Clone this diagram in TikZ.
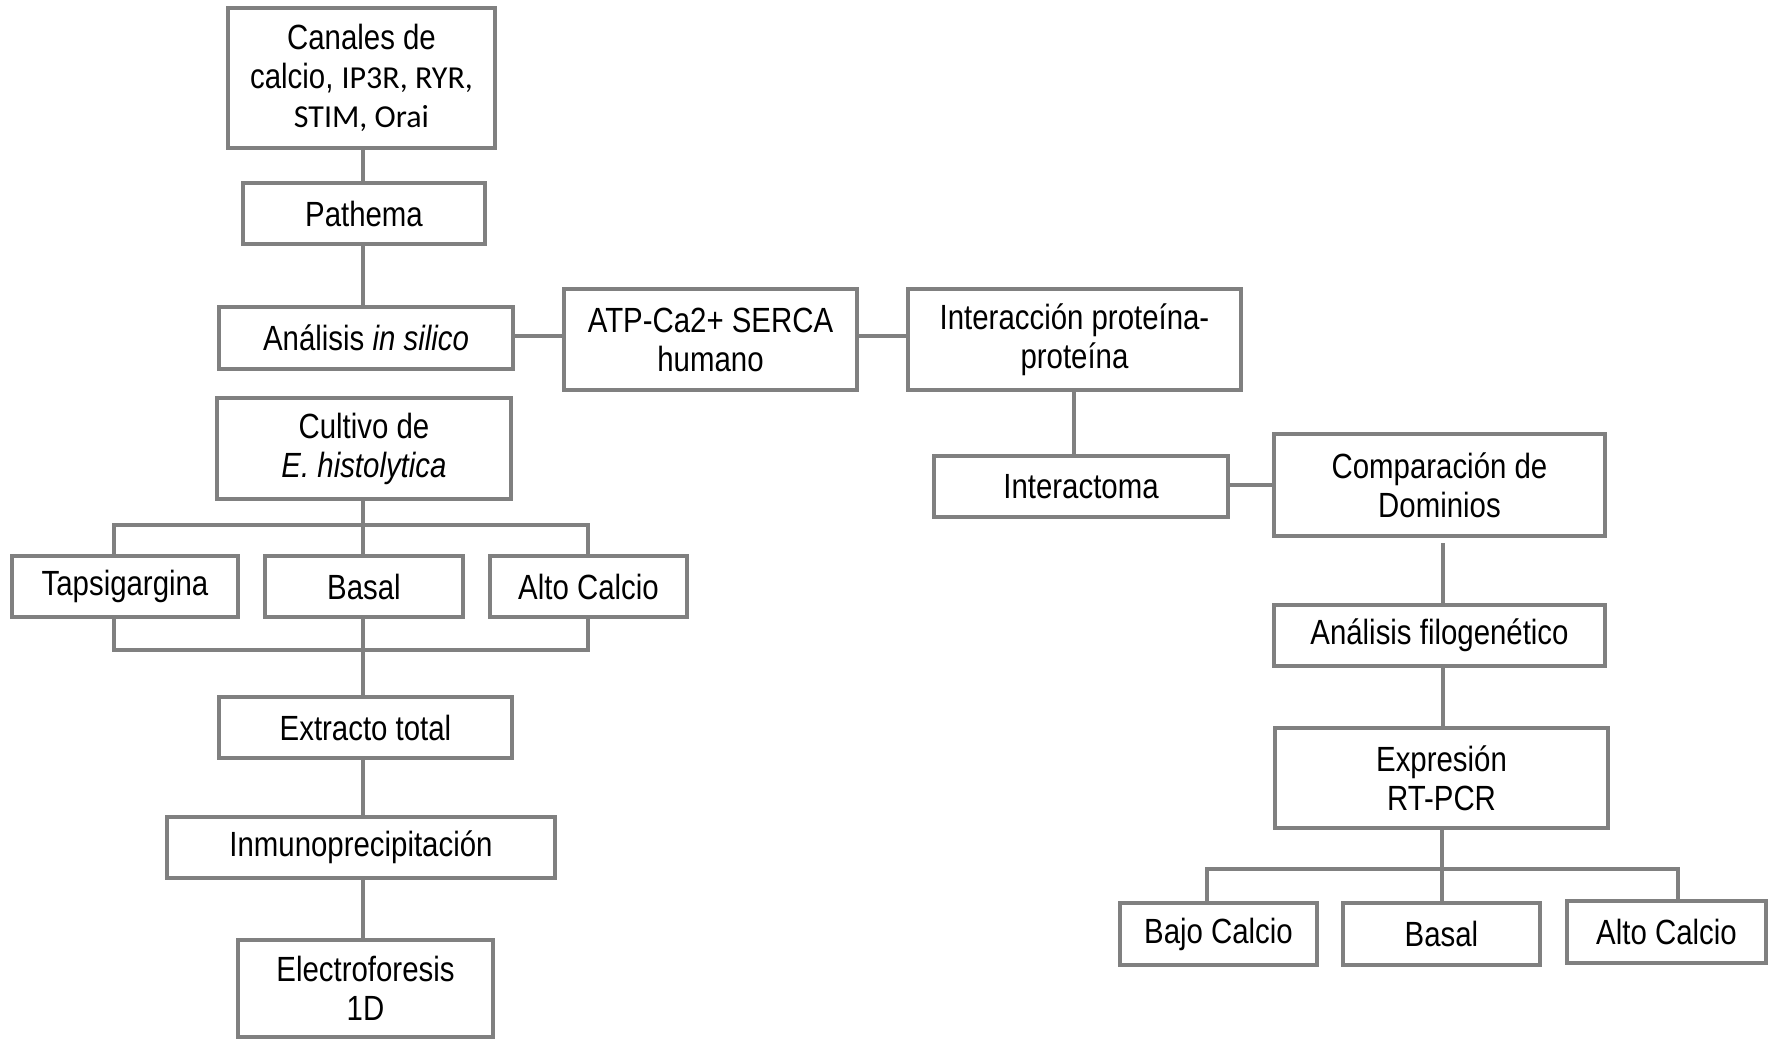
\documentclass[tikz,border=0pt]{standalone}
\usepackage{fontspec}
\setmainfont{Liberation Sans}[FakeStretch=0.84]
\newfontfamily\calib{Carlito}
\begin{document}
\begin{tikzpicture}[x=0.5pt,y=-0.5pt,
  box/.style={draw=linegray, line width=2pt, fill=white, inner sep=0pt, align=center,
    font=\fontsize{17.5}{19.5}\selectfont, text=black},
  conn/.style={draw=linegray, line width=2pt}]
\definecolor{linegray}{RGB}{128,128,128}
\useasboundingbox (0,0) rectangle (1769,1040);
% nodes
\node[box, minimum width=267*0.5pt, minimum height=140*0.5pt] (canal) at (361.5,78) {Canales de\\calcio, {\calib\fontsize{16}{19.5}\selectfont IP3R, RYR,}\\{\calib\fontsize{16}{19.5}\selectfont STIM, Orai}};
\node[box, minimum width=242*0.5pt, minimum height=61*0.5pt] (pathema) at (364,213.5) {Pathema};
\node[box, minimum width=294*0.5pt, minimum height=62*0.5pt] (silico) at (366,338) {Análisis \textit{in silico}};
\node[box, minimum width=293*0.5pt, minimum height=101*0.5pt] (atp) at (710.5,339.5) {ATP-Ca2+ SERCA\\humano};
\node[box, minimum width=333*0.5pt, minimum height=101*0.5pt] (inter) at (1074.5,339.5) {Interacción proteína-\\proteína};
\node[box, minimum width=294*0.5pt, minimum height=101*0.5pt] (cultivo) at (364,448.5) {Cultivo de\\\textit{E. histolytica}};
\node[box, minimum width=294*0.5pt, minimum height=61*0.5pt] (interactoma) at (1081,486.5) {Interactoma};
\node[box, minimum width=331*0.5pt, minimum height=102*0.5pt] (comp) at (1439.5,485) {Comparación de\\Dominios};
\node[box, minimum width=226*0.5pt, minimum height=61*0.5pt] (tap) at (125,586.5) {Tapsigargina};
\node[box, minimum width=198*0.5pt, minimum height=61*0.5pt] (basal) at (364,586.5) {Basal};
\node[box, minimum width=197*0.5pt, minimum height=61*0.5pt] (alto) at (588.5,586.5) {Alto Calcio};
\node[box, minimum width=293*0.5pt, minimum height=61*0.5pt] (extracto) at (365.5,727.5) {Extracto total};
\node[box, minimum width=388*0.5pt, minimum height=61*0.5pt] (inmuno) at (361,847.5) {Inmunoprecipitación};
\node[box, minimum width=255*0.5pt, minimum height=97*0.5pt] (electro) at (365.5,988.5) {Electroforesis\\1D};
\node[box, minimum width=331*0.5pt, minimum height=61*0.5pt] (filo) at (1439.5,635.5) {Análisis filogenético};
\node[box, minimum width=333*0.5pt, minimum height=100*0.5pt] (expr) at (1441.5,778) {Expresión\\RT-PCR};
\node[box, minimum width=197*0.5pt, minimum height=62*0.5pt] (bajo) at (1218.5,934) {Bajo Calcio};
\node[box, minimum width=197*0.5pt, minimum height=62*0.5pt] (basalb) at (1441.5,934) {Basal};
\node[box, minimum width=199*0.5pt, minimum height=62*0.5pt] (altob) at (1666.5,932) {Alto Calcio};
% bracket coordinates
\coordinate (lt) at (363,525);
\coordinate (lb) at (363,650);
\coordinate (rt) at (1442,869);
% connectors
\draw[conn] (canal.south -| 363,0) -- (pathema.north -| 363,0);
\draw[conn] (pathema.south -| 363,0) -- (silico.north -| 363,0);
\draw[conn] (silico.east |- 0,336) -- (atp.west |- 0,336);
\draw[conn] (atp.east |- 0,336) -- (inter.west |- 0,336);
\draw[conn] (inter.south -| 1074,0) -- (interactoma.north -| 1074,0);
\draw[conn] (interactoma.east |- 0,485) -- (comp.west |- 0,485);
\draw[conn] (1443,543) -- (filo.north -| 1443,0);
\draw[conn] (filo.south -| 1443,0) -- (expr.north -| 1443,0);
% left bracket top
\draw[conn] (cultivo.south -| lt) -- (lt);
\draw[conn] (tap.north -| 114,0) -- (114,525) -- (588,525) -- (alto.north -| 588,0);
\draw[conn] (lt) -- (basal.north -| lt);
% left bracket bottom
\draw[conn] (tap.south -| 114,0) -- (114,650) -- (588,650) -- (alto.south -| 588,0);
\draw[conn] (basal.south -| lb) -- (lb) -- (extracto.north -| lb);
\draw[conn] (extracto.south -| 363,0) -- (inmuno.north -| 363,0);
\draw[conn] (inmuno.south -| 363,0) -- (electro.north -| 363,0);
% right bracket
\draw[conn] (expr.south -| rt) -- (rt) -- (basalb.north -| rt);
\draw[conn] (bajo.north -| 1207,0) -- (1207,869) -- (1678,869) -- (altob.north -| 1678,0);
\end{tikzpicture}
\end{document}
